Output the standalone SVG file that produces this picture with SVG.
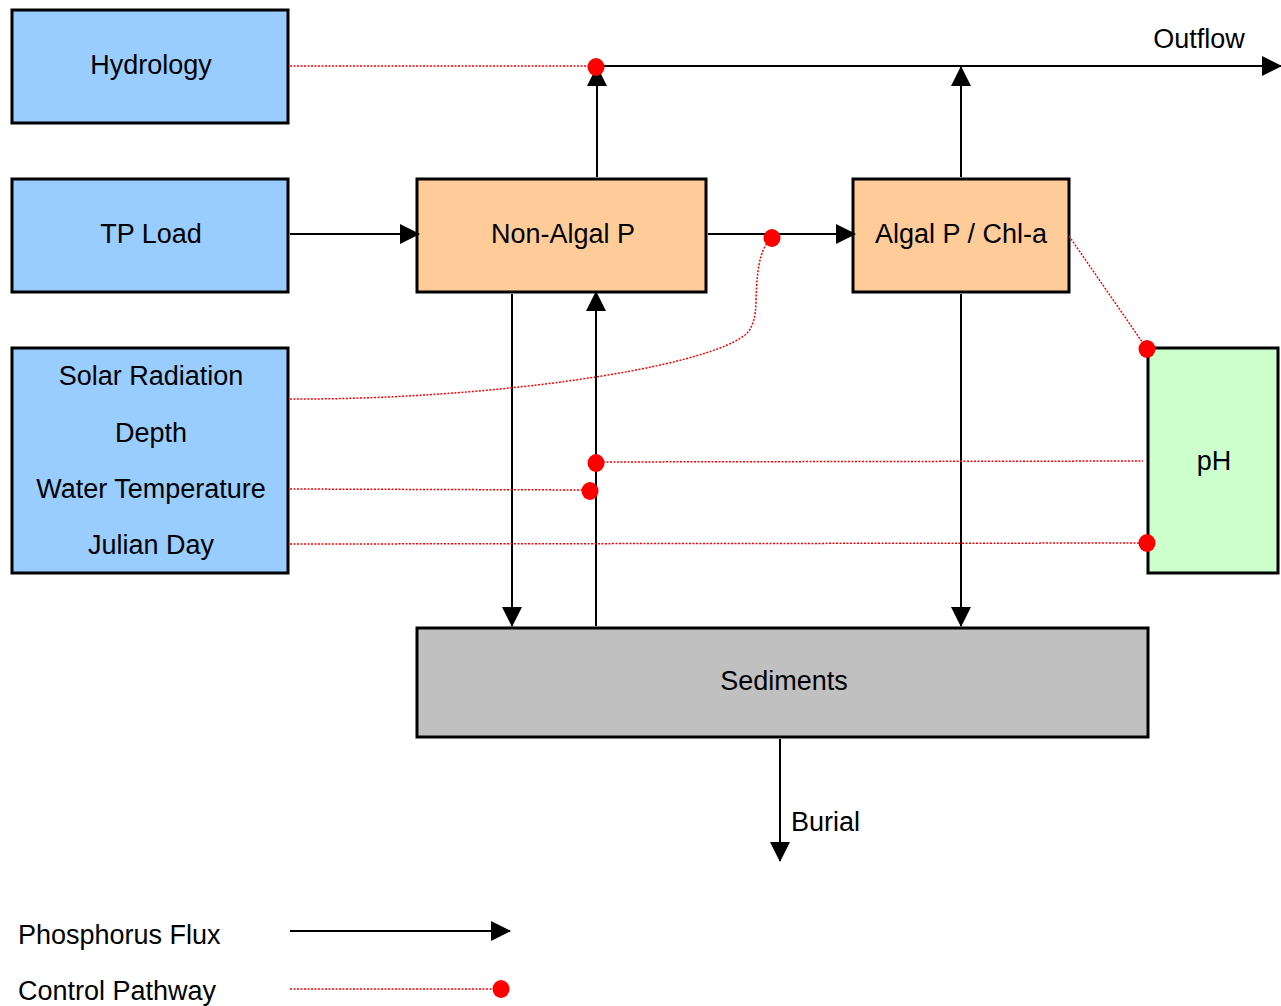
<svg xmlns="http://www.w3.org/2000/svg" width="1281" height="1006" viewBox="0 0 1281 1006">
<style>
text{font-family:"Liberation Sans",Arial,sans-serif;font-size:27px;fill:#000;text-anchor:middle;dominant-baseline:central}
.lbl{text-anchor:start}
.box{stroke:#000;stroke-width:3}
.blue{fill:#99ccff}
.orange{fill:#ffcc99}
.green{fill:#ccffcc}
.grey{fill:#c0c0c0}
.flux{stroke:#000;stroke-width:2;fill:none;marker-end:url(#arr)}
.ctl{stroke:#ff0000;stroke-width:1.5;stroke-dasharray:2 1.5;fill:none}
.dot{fill:#ff0000}
</style>
<defs>
<marker id="arr" markerUnits="userSpaceOnUse" markerWidth="20" markerHeight="20" refX="19" refY="10" orient="auto" viewBox="0 0 20 20">
<path d="M0,0 L20,10 L0,20 Z" fill="#000"/>
</marker>
</defs>
<rect width="1281" height="1006" fill="#fff"/>
<g id="hydrology"><rect class="box blue" x="12" y="10" width="276" height="113"/><text x="151" y="65">Hydrology</text></g>
<g id="tpload"><rect class="box blue" x="12" y="179" width="276" height="113"/><text x="151" y="234">TP Load</text></g>
<g id="drivers"><rect class="box blue" x="12" y="348" width="276" height="225"/>
<text x="151" y="376">Solar Radiation</text>
<text x="151" y="433">Depth</text>
<text x="151" y="489">Water Temperature</text>
<text x="151" y="545">Julian Day</text></g>
<g id="nonalgal"><rect class="box orange" x="417" y="179" width="289" height="113"/><text x="563" y="234">Non-Algal P</text></g>
<g id="algal"><rect class="box orange" x="853" y="179" width="216" height="113"/><text x="961" y="234">Algal P / Chl-a</text></g>
<g id="ph"><rect class="box green" x="1148" y="348" width="130" height="225"/><text x="1214" y="461">pH</text></g>
<g id="sediments"><rect class="box grey" x="417" y="628" width="731" height="109"/><text x="784" y="681">Sediments</text></g>
<g id="connectors">
<line class="flux" x1="596" y1="66" x2="1281" y2="66"/>
<line class="flux" x1="597" y1="177" x2="597" y2="67"/>
<line class="flux" x1="961" y1="177" x2="961" y2="67"/>
<line class="flux" x1="290" y1="234" x2="419" y2="234"/>
<line class="flux" x1="708" y1="234" x2="855" y2="234"/>
<line class="flux" x1="512" y1="294" x2="512" y2="626"/>
<line class="flux" x1="596" y1="626" x2="596" y2="292"/>
<line class="flux" x1="961" y1="294" x2="961" y2="626"/>
<line class="flux" x1="780" y1="739" x2="780" y2="861"/>
<line class="ctl" x1="290" y1="66" x2="596" y2="66"/>
<path class="ctl" d="M290,399 C480,400 700,370 745,335 Q756,326 756,300 C757,262 762,246 772,238"/>
<line class="ctl" x1="1069" y1="236" x2="1147" y2="349"/>
<path class="ctl" d="M596,462 L1143,461"/>
<path class="ctl" d="M290,489 L590,490"/>
<path class="ctl" d="M290,544 L1147,543"/>
<ellipse class="dot" cx="596" cy="67" rx="8.5" ry="9"/>
<ellipse class="dot" cx="772" cy="238" rx="8.5" ry="9"/>
<ellipse class="dot" cx="1147" cy="349" rx="8.5" ry="9"/>
<ellipse class="dot" cx="596" cy="463" rx="8.5" ry="9"/>
<ellipse class="dot" cx="590" cy="491" rx="8.5" ry="9"/>
<ellipse class="dot" cx="1147" cy="543" rx="8.5" ry="9"/>
</g>
<g id="labels">
<text x="1199" y="39">Outflow</text>
<text class="lbl" x="791" y="822">Burial</text>
</g>
<g id="legend">
<text class="lbl" x="18" y="935">Phosphorus Flux</text>
<line class="flux" x1="290" y1="931" x2="510" y2="931"/>
<text class="lbl" x="18" y="991">Control Pathway</text>
<line class="ctl" x1="290" y1="989" x2="501" y2="989"/>
<ellipse class="dot" cx="501" cy="989" rx="8.5" ry="9"/>
</g>
</svg>
